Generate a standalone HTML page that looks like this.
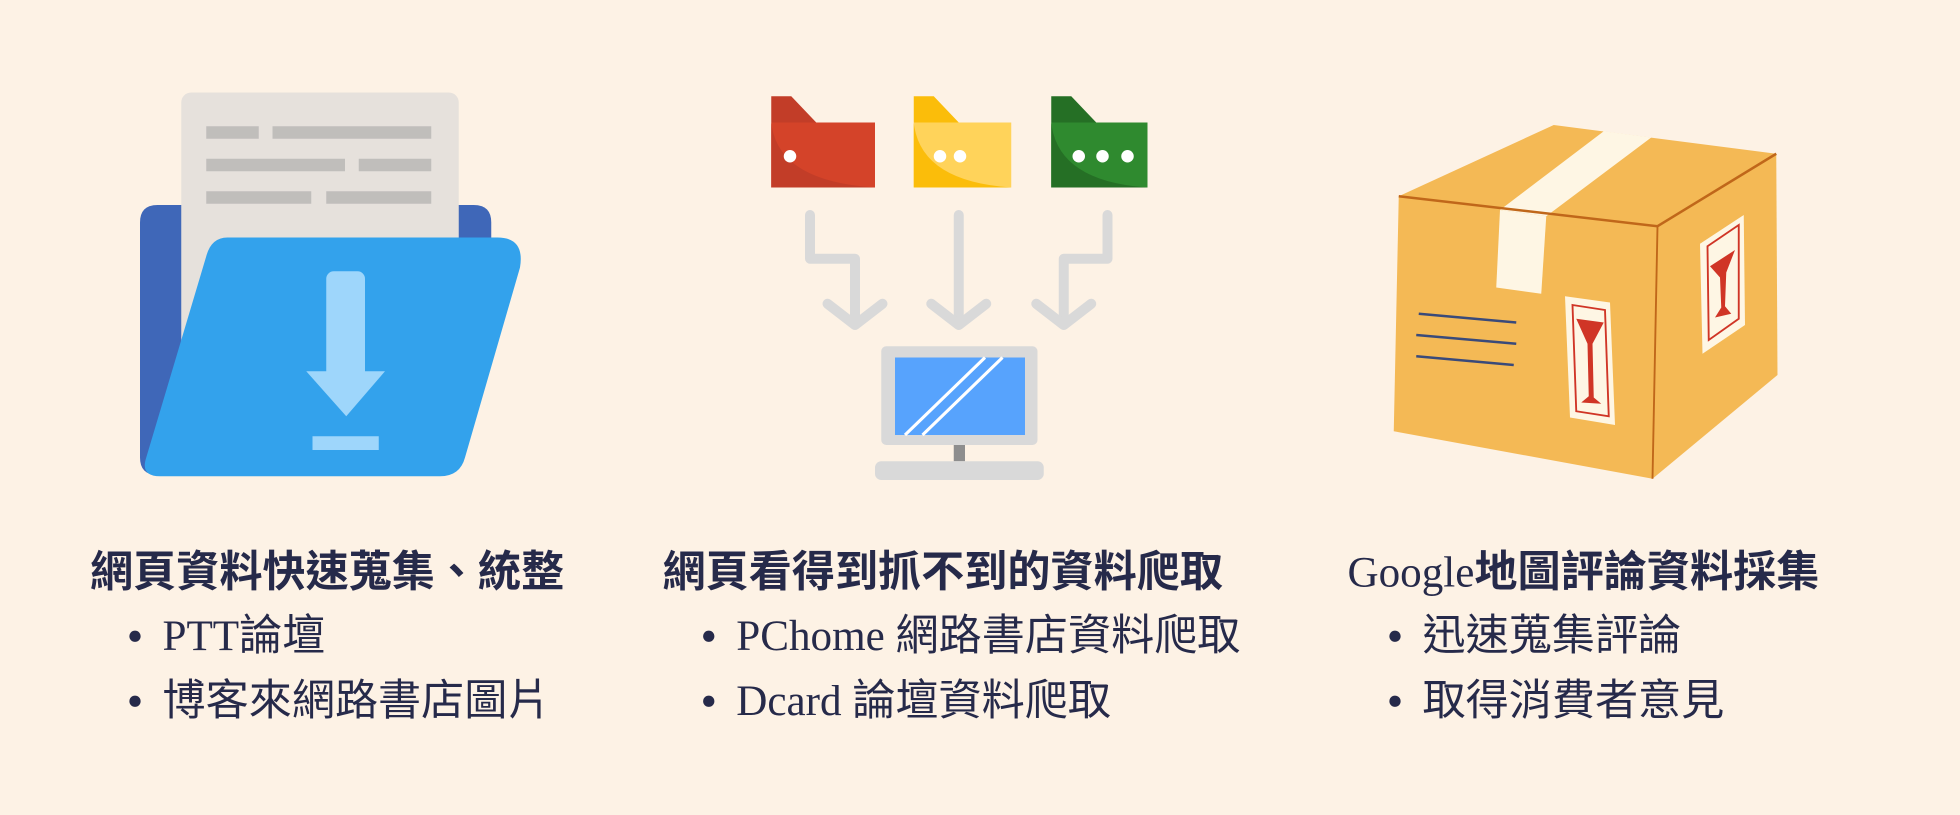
<!DOCTYPE html>
<html><head><meta charset="utf-8"><style>
html,body{margin:0;padding:0;background:#fdf2e5;}
svg{display:block}
text{font-family:"Liberation Serif","Noto Sans CJK TC",serif;fill:#262a4a;}
</style></head><body>
<svg width="1960" height="815" viewBox="0 0 1568 652" xmlns="http://www.w3.org/2000/svg">
<rect width="1568" height="652" fill="#fdf2e5"/>
<!-- folder icon -->
<path d="M112,178 Q112,164 126,164 H379 Q393,164 393,178 V205 L150,380 H126 Q112,380 112,366 Z" fill="#3f67b8"/>
<rect x="145" y="74" width="222" height="240" rx="8" fill="#e6e1dc"/>
<g fill="#c0bebb">
<rect x="165" y="101" width="42" height="10"/><rect x="218" y="101" width="127" height="10"/>
<rect x="165" y="127" width="111" height="10"/><rect x="287" y="127" width="58" height="10"/>
<rect x="165" y="153" width="84" height="10"/><rect x="261" y="153" width="84" height="10"/>
</g>
<path d="M182,190 H398 Q420,190 416,214 L372,366 Q368,381 352,381 H128 Q112,381 117,366 L165,205 Q169,190 182,190 Z" fill="#33a2ec"/>
<rect x="261" y="217" width="31" height="86" rx="6" fill="#9ed6fb"/>
<polygon points="245,297 308,297 277,333" fill="#9ed6fb"/>
<rect x="250" y="349" width="53" height="11" fill="#9ed6fb"/>
<!-- folders -->
<g>
<polygon points="617,77 633,77 653,98 617,98" fill="#c23d28"/>
<rect x="617" y="98" width="83" height="52" fill="#d44329"/>
<path d="M617,98 Q622,145 700,150 H617 Z" fill="#c23d28"/>
<circle cx="632" cy="125" r="5" fill="#fff"/>
<polygon points="731,77 747,77 767,98 731,98" fill="#fbbd0a"/>
<rect x="731" y="98" width="78" height="52" fill="#ffd35a"/>
<path d="M731,98 Q736,145 809,150 H731 Z" fill="#fbbd0a"/>
<circle cx="752" cy="125" r="5" fill="#fff"/><circle cx="768" cy="125" r="5" fill="#fff"/>
<polygon points="841,77 857,77 877,98 841,98" fill="#256f25"/>
<rect x="841" y="98" width="77" height="52" fill="#2f8a2f"/>
<path d="M841,98 Q846,145 918,150 H841 Z" fill="#256f25"/>
<circle cx="863" cy="125" r="5" fill="#fff"/><circle cx="882" cy="125" r="5" fill="#fff"/><circle cx="902" cy="125" r="5" fill="#fff"/>
</g>
<!-- arrows -->
<g fill="none" stroke="#d9d9d9" stroke-width="8" stroke-linecap="round" stroke-linejoin="round">
<path d="M648,172 V207 H684 V258"/><polyline points="662,243 684,260 706,243"/>
<path d="M767,172 V258"/><polyline points="745,243 767,260 789,243"/>
<path d="M886,172 V207 H851 V258"/><polyline points="829,243 851,260 873,243"/>
</g>
<!-- monitor -->
<rect x="705" y="277" width="125" height="79" rx="4" fill="#d9d9d9"/>
<rect x="716" y="286" width="104" height="62" fill="#57a3fd"/>
<g stroke="#fff" stroke-width="2.5"><line x1="724" y1="348" x2="788" y2="286"/><line x1="738" y1="348" x2="802" y2="286"/></g>
<rect x="763" y="356" width="9" height="13" fill="#8e8e8e"/>
<rect x="700" y="369" width="135" height="15" rx="5" fill="#d9d9d9"/>
<!-- box -->
<polygon points="1119,157 1243,100 1421,123 1326,181" fill="#f4b955"/>
<polygon points="1119,157 1326,181 1322,383 1115,345" fill="#f4b955"/>
<polygon points="1326,181 1421,123 1422,300 1322,383" fill="#f4b955"/>
<polygon points="1200,168 1237,173 1321,110 1283,105" fill="#fef6e4"/>
<polygon points="1200,168 1237,173 1233,235 1197,230" fill="#fef6e4"/>
<g stroke="#c0671a" stroke-width="2" fill="none"><polyline points="1119,157 1326,181 1421,123"/><line x1="1326" y1="181" x2="1322" y2="383" stroke-width="1.5"/></g>
<g stroke="#3a4a7a" stroke-width="2"><line x1="1135" y1="251" x2="1213" y2="258"/><line x1="1133" y1="268" x2="1213" y2="275"/><line x1="1133" y1="285" x2="1211" y2="292"/></g>
<polygon points="1252,237 1288,242 1292,340 1256,334" fill="#fef6e4"/>
<polygon points="1258,244 1284,248 1287,333 1261,329" fill="none" stroke="#d03526" stroke-width="1.5"/>
<path d="M1261,255 L1283,258 L1274,275 L1275,318 L1281,323 L1265,322 L1271,317 L1270,275 Z" fill="#d03526"/>
<polygon points="1360,195 1395,172 1396,260 1362,283" fill="#fef6e4"/>
<polygon points="1366,197 1391,180 1391,255 1367,272" fill="none" stroke="#d03526" stroke-width="1.5"/>
<path d="M1368,213 L1388,200 L1381,218 L1380,245 L1385,251 L1372,254 L1377,246 L1376,222 Z" fill="#d03526"/>
<!-- text -->
<g font-size="34.5">
<text x="72" y="469" font-weight="bold">網頁資料快速蒐集、統整</text>
<text x="530" y="469" font-weight="bold">網頁看得到抓不到的資料爬取</text>
<text x="1078" y="469">Google<tspan font-weight="bold">地圖評論資料採集</tspan></text>
<text x="130" y="520">PTT論壇</text>
<text x="130" y="572">博客來網路書店圖片</text>
<text x="589" y="520">PChome 網路書店資料爬取</text>
<text x="589" y="572">Dcard 論壇資料爬取</text>
<text x="1138" y="520">迅速蒐集評論</text>
<text x="1138" y="572">取得消費者意見</text>
</g>
<g fill="#262a4a">
<circle cx="108" cy="509" r="4.5"/><circle cx="108" cy="561" r="4.5"/>
<circle cx="567" cy="509" r="4.5"/><circle cx="567" cy="561" r="4.5"/>
<circle cx="1116" cy="509" r="4.5"/><circle cx="1116" cy="561" r="4.5"/>
</g>
</svg>
</body></html>
